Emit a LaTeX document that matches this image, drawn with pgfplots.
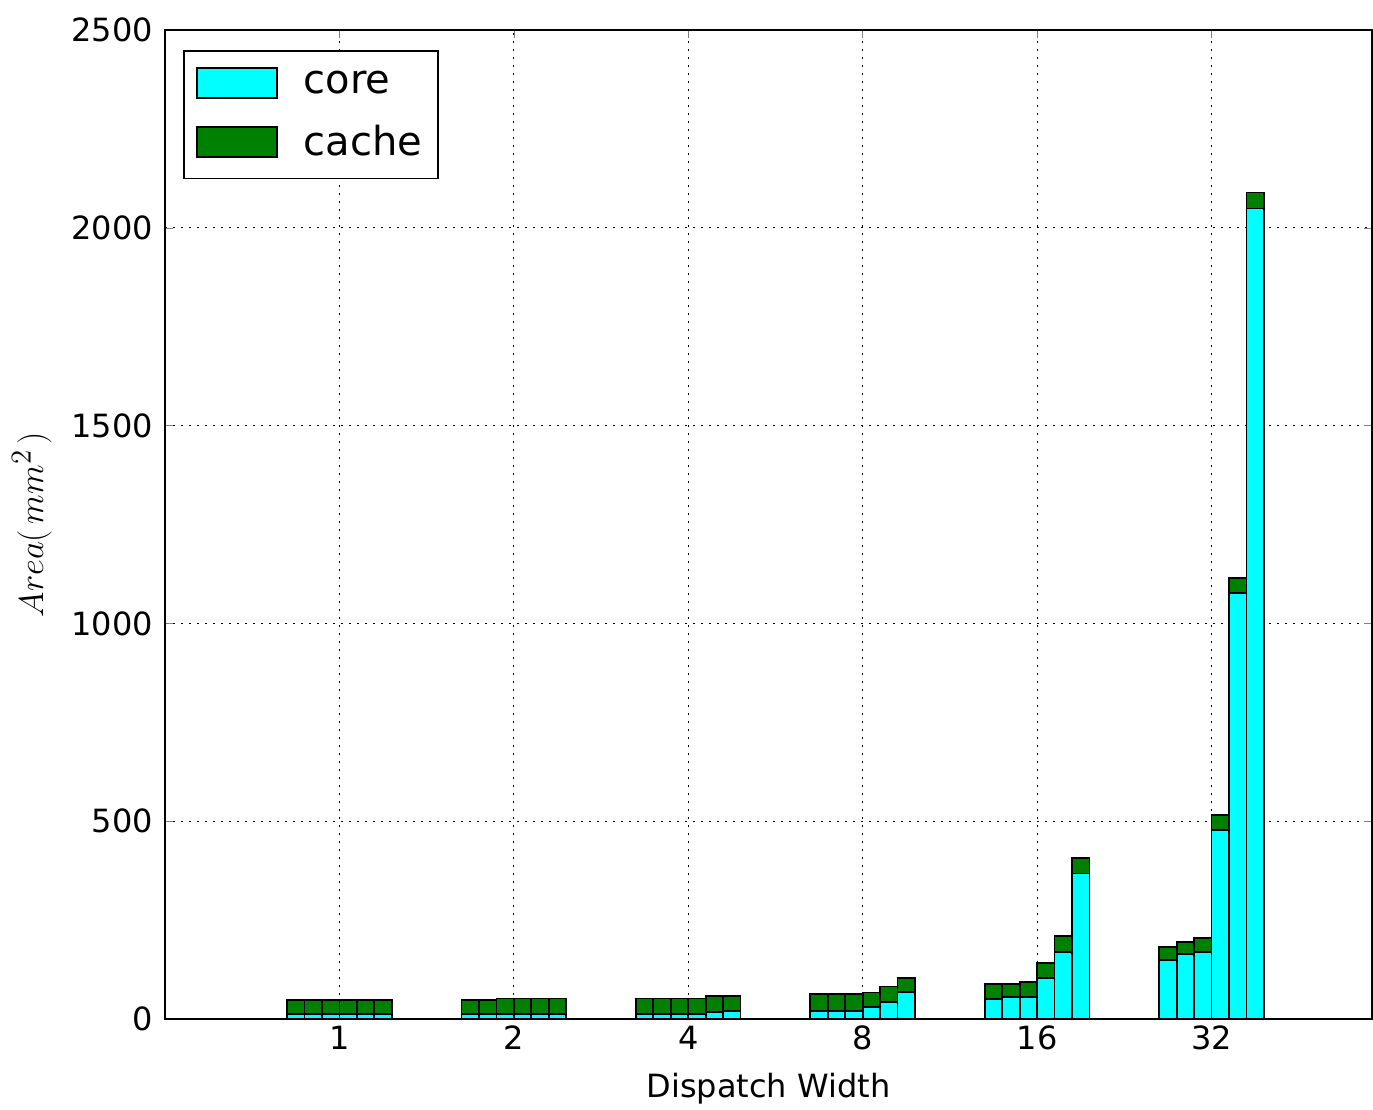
\documentclass[border=0pt]{standalone}
\usepackage{pgfplots}
\pgfplotsset{compat=1.18}
\usepackage{fontspec}
\setmainfont{DejaVu Sans}
\definecolor{mcyan}{rgb}{0,1,1}
\definecolor{mgreen}{rgb}{0,0.5,0}
\pgfplotstableread{
x core cache
0.75 12 36
0.85 12 36
0.95 12 36
1.05 12 36
1.15 12 36
1.25 12 36
1.75 12 36
1.85 12 36
1.95 12 40
2.05 12 40
2.15 12 40
2.25 12 40
2.75 13 39
2.85 13 39
2.95 13 39
3.05 13 39
3.15 17 42
3.25 21 38
3.75 21 42
3.85 21 42
3.95 21 42
4.05 31 36
4.15 43 39
4.25 69 34
4.75 50 38
4.85 55 33
4.95 55 39
5.05 103 39
5.15 169 41
5.25 368 38
5.75 149 34
5.85 164 31
5.95 170 34
6.05 478 38
6.15 1076 38
6.25 2049 40
}\datatable
\begin{document}
\begin{tikzpicture}
\begin{axis}[
  scale only axis,
  width=603.5pt, height=494.5pt,
  xmin=0, xmax=6.92, ymin=0, ymax=2500,
  ybar stacked, bar width=0.1,
  xtick={1,2,3,4,5,6},
  xticklabels={1,2,4,8,16,32},
  ytick={0,500,1000,1500,2000,2500},
  tick label style={font=\fontsize{16}{19}\selectfont},
  yticklabel style={xshift=-2.5pt},
  /pgf/number format/assume math mode=true,
  /pgf/number format/1000 sep={},
  xlabel={Dispatch Width},
  ylabel={$Area(\,mm^2\,)$},
  xlabel style={font=\fontsize{16}{19}\selectfont, at={(axis description cs:0.5,0)}, anchor=center, yshift=-35pt},
  ylabel style={font=\fontsize{19}{22}\selectfont, at={(axis description cs:0,0.5)}, anchor=center, yshift=66.5pt},
  grid=major,
  major grid style={black, line width=0.6pt, dash pattern=on 1pt off 3pt},
  tick align=inside,
  major tick length=4pt,
  axis line style={line width=0.9pt},
  legend style={at={(axis description cs:0.015,0.98)}, anchor=north west,
    font=\fontsize{20}{24}\selectfont, draw=black, line width=0.9pt,
    row sep=10.5pt, inner xsep=6pt, inner ysep=8pt,
    cells={anchor=west}},
  legend image code/.code={\draw[#1, line width=0.9pt] (0pt,-7.5pt) rectangle (40pt,7.5pt);},
]
\addplot[fill=mcyan, draw=black, line width=0.9pt] table[x=x, y=core] {\datatable};
\addlegendentry{\hspace{11pt}core}
\addplot[fill=mgreen, draw=black, line width=0.9pt] table[x=x, y=cache] {\datatable};
\addlegendentry{\hspace{11pt}cache}
\end{axis}
\pgfresetboundingbox
\path ([shift={(-82.5pt,-45.5pt)}]current axis.south west) rectangle ([shift={(0.5pt,15pt)}]current axis.north east);
\end{tikzpicture}
\end{document}
